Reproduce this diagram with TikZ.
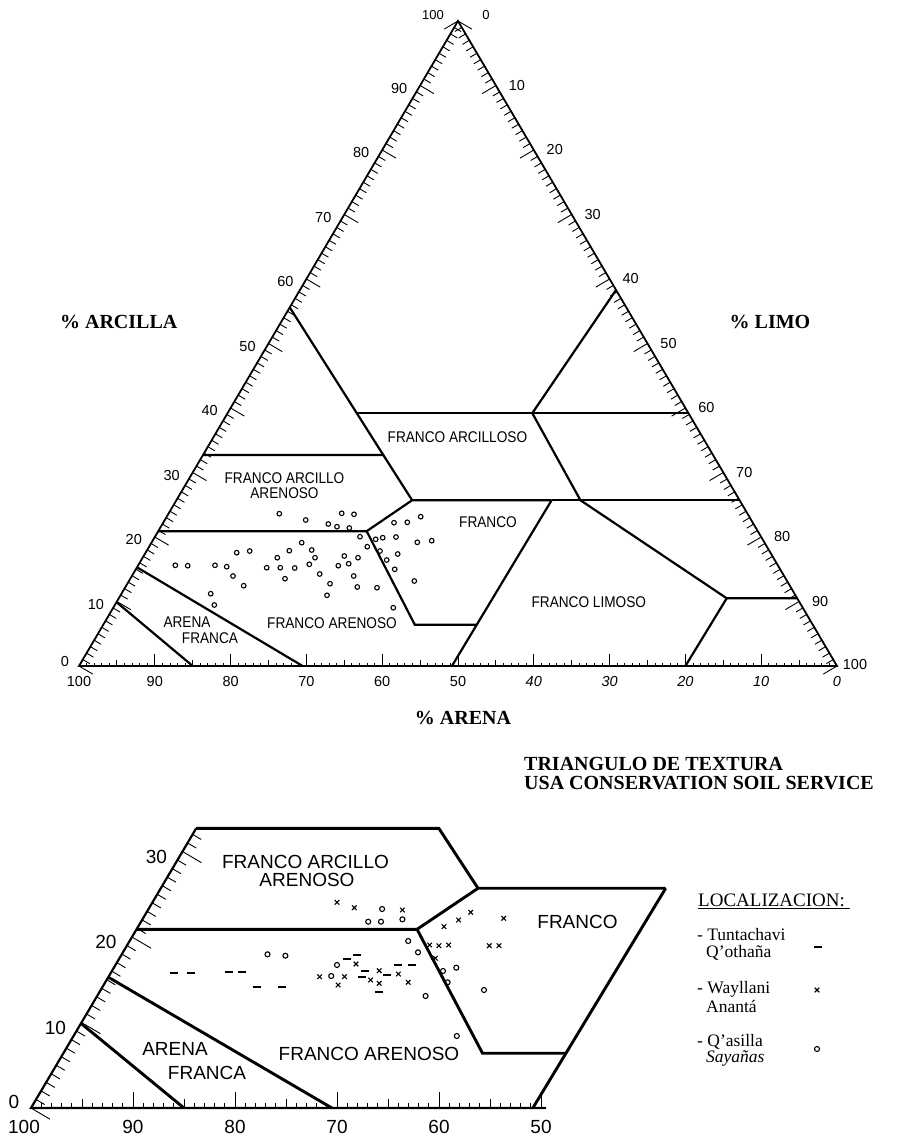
\documentclass[tikz,border=0pt]{standalone}
\usepackage{fontspec}
\setmainfont{Liberation Serif}
\setsansfont{Liberation Sans}
\usepackage{graphicx}

\newcommand{\narrow}[1]{\scalebox{0.88}[1]{#1}}

% texture class limits shared by both drawings, in (limo, arcilla) units
\newcommand{\sandlimits}{
  \draw[limit] (0,9.9) -- (15,0);
  \draw[limit] (0,15.3) -- (29.5,0);
  \draw[limit] (0,20.9) -- (27.5,20.9) -- (41.1,6.4) -- (49.3,6.4);
  \draw[limit] (49.2,0) -- (49.5,25.7);
  \draw[limit] (27.5,20.9) -- (31.1,25.7) -- (49.5,25.7);
  \draw[limit] (0,32.7) -- (23.8,32.7) -- (31.1,25.7);
}

\tikzset{
  frame/.style={line width=1.8pt},
  limit/.style={line width=2.2pt},
  tck/.style={line width=0.9pt},
  region/.style={inner sep=0pt, font=\sffamily\fontsize{15.5}{16}\selectfont},
  bigregion/.style={inner sep=0pt, font=\sffamily\fontsize{19}{19}\selectfont},
  num/.style={inner sep=0pt, font=\sffamily\fontsize{14.5}{15}\selectfont},
  bignum/.style={inner sep=0pt, font=\sffamily\fontsize{19}{19}\selectfont},
  axtitle/.style={inner sep=0pt, font=\bfseries\fontsize{20}{18}\selectfont},
  legendhead/.style={inner sep=0pt, font=\fontsize{19}{19}\selectfont},
  item/.style={inner sep=0pt, font=\fontsize{17.5}{18}\selectfont},
  qasilla/.pic={\draw[line width=1.1pt] (0,0) circle (2.5pt);},
  wayllani/.pic={\draw[line width=1.1pt] (-2.3pt,-2.3pt) -- (2.3pt,2.3pt) (-2.3pt,2.3pt) -- (2.3pt,-2.3pt);},
  tuntachavi/.pic={\draw[line width=2pt] (-4pt,0) -- (4pt,0);},
}

\begin{document}
\begin{tikzpicture}[x=1pt,y=-1pt]
\useasboundingbox (0,0) rectangle (910,1139);

% upper triangle
\begin{scope}[shift={(79,666)},x={(7.58pt,0pt)},y={(3.79pt,6.45pt)}]
  \draw[frame] (0,0) -- (100,0) -- (0,100) -- cycle;
  \foreach \c in {0,...,100}{
    \pgfmathsetlengthmacro\len{mod(\c,10)==0 ? 16pt : 8pt}
    \draw[tck] (0,\c) -- ++(-30.5:\len);
    \draw[tck] ({100-\c},\c) -- ++(210.5:\len);
  }
  \foreach \s in {1,...,99}{
    \pgfmathsetlengthmacro\len{mod(\s,10)==0 ? 12pt : (mod(\s,5)==0 ? 6pt : 3.5pt)}
    \draw[tck] (\s,0) -- ++(90:\len);
  }
  \sandlimits
  \draw[limit] (49.5,25.7) -- (74.3,25.7);
  \draw[limit] (0,55.6) -- (23.8,32.7);
  \draw[limit] (17.1,39.2) -- (60.8,39.2);
  \draw[limit] (40.2,39.2) -- (41.7,58.3);
  \draw[limit] (40.2,39.2) -- (53.3,25.7) -- (80.2,10.5) -- (89.5,10.5);
  \draw[limit] (80,0) -- (80.2,10.5);
  \foreach \v in {10,20,...,90}{
    \node[num, xshift=-21pt, yshift=-3pt, name=ar\v] at (0,\v) {\v};
    \node[num, xshift=21pt, name=li\v] at (\v,{100-\v}) {\v};
  }
  \foreach \v in {100,90,...,0}{
    \node[num, yshift=-16pt, name=an\v] at ({100-\v},0) {\ifnum\v<41 \itshape\fi\v};
  }
\end{scope}
\node[num] (ar0) at (65,662) {0};
\node[num] (li100) at (855,665) {100};
\node[num, font=\sffamily\fontsize{13}{13}\selectfont] (ar100) at (433,15) {100};
\node[num, font=\sffamily\fontsize{13}{13}\selectfont] (li0) at (486,15) {0};

\node[region] (fal) at (457.4,437.3) {\narrow{FRANCO ARCILLOSO}};
\node[region] (faa1) at (284.5,478.3) {\narrow{FRANCO ARCILLO}};
\node[region] (faa2) at (284.5,493.3) {\narrow{ARENOSO}};
\node[region] (fr) at (488,522.3) {\narrow{FRANCO}};
\node[region] (fli) at (588.8,602.3) {\narrow{FRANCO LIMOSO}};
\node[region] (af1) at (187,622) {\narrow{ARENA}};
\node[region] (af2) at (210,638) {\narrow{FRANCA}};
\node[region] (far) at (332,623.5) {\narrow{FRANCO ARENOSO}};

\foreach \p in {(279.3,513.7),(305.7,520),(341.7,513.3),(354,514.3),(328.3,524),(337,526.7),
  (349.3,528),(394,522.7),(407.3,522.3),(420.7,516.7),(360,536.7),(375.7,539.3),(382.7,537.7),
  (396,537),(417.3,542.3),(431.7,540.7),(367.3,546.7),(380,551),(397.7,554),(386.7,560),
  (394.7,569.3),(414.3,581),(301.7,542.7),(311.7,550),(289.3,550.7),(315,557.7),(277.3,557.7),
  (236.7,552.7),(249.7,551),(344.3,556),(358,557.7),(348.7,563.7),(338.3,565.7),(309.3,564.3),
  (294.7,568),(280.3,567.7),(266.7,567.7),(175.3,565.3),(187.7,565.7),(215,565.3),(226.7,566.7),
  (233,576),(243.7,585.7),(285,578.7),(319.7,574),(353.7,576),(330,583.7),(357.3,587),
  (377,587.7),(327,595.3),(210.7,593.7),(214.3,605),(393.3,607.7)}
  \draw[line width=1.1pt] \p circle (2.3pt);

\node[axtitle] (tarc) at (118.7,321.7) {\% ARCILLA};
\node[axtitle] (tlim) at (770,321.7) {\% LIMO};
\node[axtitle] (taren) at (463,718.3) {\% ARENA};
\node[axtitle, anchor=west] (tit1) at (524,764) {TRIANGULO DE TEXTURA};
\node[axtitle, anchor=west] (tit2) at (524,783.5) {USA CONSERVATION SOIL SERVICE};

% lower enlarged corner
\begin{scope}[shift={(31,1108)},x={(10.2pt,0pt)},y={(5.05pt,8.55pt)},limit/.append style={line width=2.9pt},frame/.append style={line width=2.2pt}]
  \draw[frame] (0,32.7) -- (0,0) -- (50.5,0);
  \foreach \c in {0,...,32}{
    \pgfmathsetlengthmacro\len{mod(\c,10)==0 ? 22pt : 10pt}
    \draw[tck] (0,\c) -- ++(-30.5:\len);
  }
  \foreach \s in {1,...,50}{
    \pgfmathsetlengthmacro\len{mod(\s,10)==0 ? 16pt : (mod(\s,5)==0 ? 9pt : 5pt)}
    \draw[tck] (\s,0) -- ++(90:\len);
  }
  \sandlimits
  \foreach \v in {10,20,30}
    \node[bignum, xshift=-26pt, yshift=-5pt, name=lar\v] at (0,\v) {\v};
  \foreach \v in {90,80,...,50}
    \node[bignum, yshift=-19pt, name=lan\v] at ({100-\v},0) {\v};
\end{scope}
\node[bignum] (lar0) at (14,1102) {0};
\node[bignum] (lan100) at (24,1127) {100};

\node[bigregion] (lfaa1) at (305.5,861.7) {FRANCO ARCILLO};
\node[bigregion] (lfaa2) at (307,880) {ARENOSO};
\node[bigregion] (lfr) at (577.5,921.7) {FRANCO};
\node[bigregion] (laf1) at (175,1049.3) {ARENA};
\node[bigregion] (laf2) at (207,1073.3) {FRANCA};
\node[bigregion] (lfar) at (369,1054.3) {FRANCO ARENOSO};

\foreach \p in {(173.7,973.3),(191,973.3),(228.7,972.3),(242,972.3),(256.5,986.7),(282,986.7),
  (347.4,959.3),(357.2,955),(364.8,970.7),(361.9,976.7),(386.8,975),(398.4,965),(412.2,965),
  (379.2,991.7)}
  \pic at \p {tuntachavi};
\foreach \p in {(337,902.3),(354.3,907.7),(402.4,910),(470.7,912.3),(458.6,920),(503.7,918.3),
  (444,926.7),(429.6,945),(438.9,945.7),(448.7,945),(489.3,945.7),(499,945.7),(435.4,958.3),
  (356,964),(319.6,976.7),(344.5,976.7),(338.1,985),(370.6,980),(379.2,983.3),(379.2,970.7),
  (398.4,974),(408.2,982.3)}
  \pic at \p {wayllani};
\foreach \p in {(382.1,909),(368.2,921.7),(381,921.7),(402.4,919.3),(408.2,941),(418,952.3),
  (267.5,954.3),(285.4,955.7),(337,965),(331.2,976),(443,971),(456.3,967.7),(447.6,982.3),
  (425.6,996),(484,990),(456.8,1036)}
  \pic at \p {qasilla};

% legend
\node[legendhead, anchor=west] (loc) at (698,900) {LOCALIZACION:};
\draw[line width=0.8pt] ([yshift=-2pt]loc.south west) -- ([yshift=-2pt,xshift=5pt]loc.south east);
\node[item, anchor=west] (tu1) at (697,935) {- Tuntachavi};
\node[item, anchor=west] (tu2) at (706,953) {Q'othaña};
\node[item, anchor=west] (wa1) at (697,989) {- Wayllani};
\node[item, anchor=west] (wa2) at (706,1006) {Anantá};
\node[item, anchor=west] (qa1) at (697,1042) {- Q'asilla};
\node[item, anchor=west] (qa2) at (706,1058) {\itshape Sayañas};
\pic at (818,947) {tuntachavi};
\pic at (817,990) {wayllani};
\pic at (817,1049) {qasilla};
\end{tikzpicture}
\end{document}
